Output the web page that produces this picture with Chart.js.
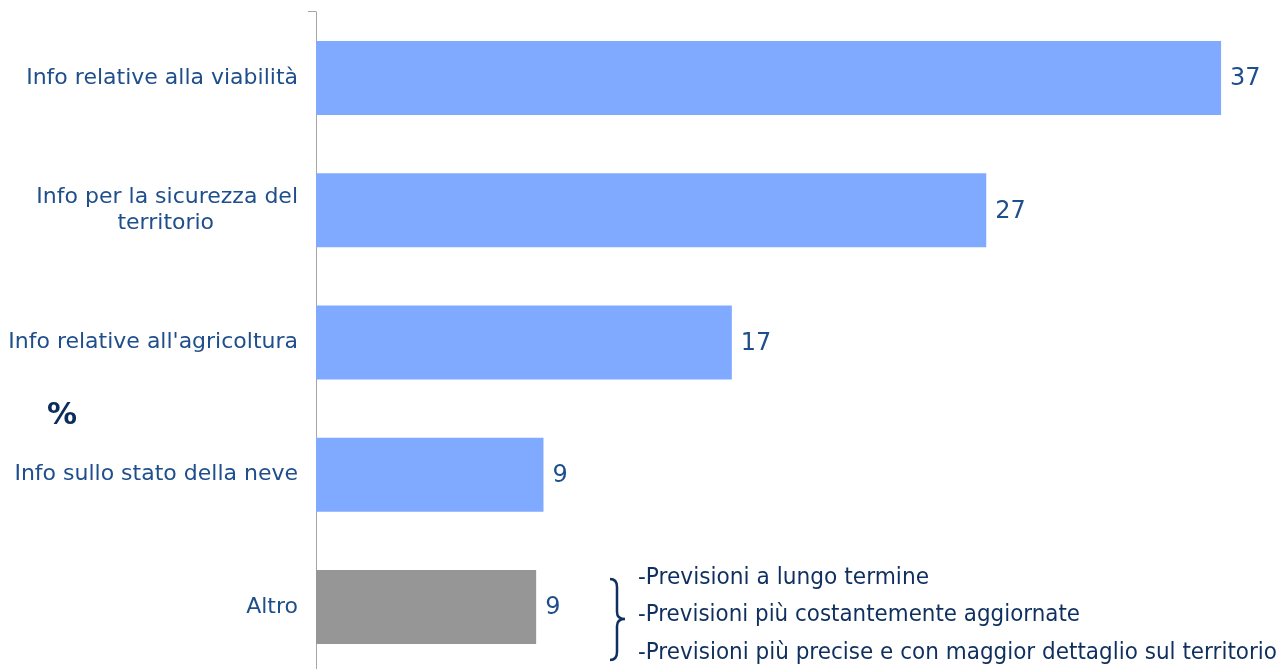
<!DOCTYPE html>
<html>
<head>
<meta charset="utf-8">
<script src="https://cdn.jsdelivr.net/npm/chart.js@4.4.1/dist/chart.umd.min.js"></script>
<style>
  html, body { margin: 0; padding: 0; background: #ffffff; overflow: hidden; }
  #wrap { position: relative; width: 1281px; height: 669px; overflow: hidden; }
  canvas { display: block; }
</style>
</head>
<body>
<div id="wrap"><canvas id="c" width="1281" height="674"></canvas></div>
<script>
// ---- data ----
const categories = [
  'Info relative alla viabilità',
  ['Info per la sicurezza del', 'territorio'],
  "Info relative all'agricoltura",
  'Info sullo stato della neve',
  'Altro'
];
const values = [37, 27.4, 17, 9.3, 9];
const valueLabels = ['37', '27', '17', '9', '9'];
const unitLabel = '%';
const altroNotes = [
  '-Previsioni a lungo termine',
  '-Previsioni più costantemente aggiornate',
  '-Previsioni più precise e con maggior dettaglio sul territorio'
];

// ---- styles ----
const FONT = "'DejaVu Sans', Verdana, sans-serif";
const LABEL_COLOR = '#1f4e8c';
const NOTE_COLOR = '#0f2f5f';
const barColors = ['#80aaff', '#80aaff', '#80aaff', '#80aaff', '#969696'];
const TICK_SIZE = 22;

// center the second line of multi-line labels under the first (right-aligned ticks)
const meas = document.createElement('canvas').getContext('2d');
meas.font = TICK_SIZE + 'px ' + FONT;
const tickLabels = categories.map(c => {
  if (!Array.isArray(c)) return c;
  const w0 = meas.measureText(c[0]).width;
  return c.map((line, i) => {
    if (i === 0) return line;
    const w = meas.measureText(line).width;
    const sp = meas.measureText('\u00A0').width;
    const n = Math.max(0, Math.round(((w0 - w) / 2) / sp));
    return line + '\u00A0'.repeat(n);
  });
});

const extras = {
  id: 'extras',
  afterDatasetsDraw(chart) {
    const ctx = chart.ctx;
    const meta = chart.getDatasetMeta(0);
    const area = chart.chartArea;
    ctx.save();
    // value labels
    ctx.font = '24px ' + FONT;
    ctx.fillStyle = LABEL_COLOR;
    ctx.textBaseline = 'middle';
    ctx.textAlign = 'left';
    meta.data.forEach((bar, i) => {
      ctx.fillText(valueLabels[i], bar.x + 9, bar.y + 1);
    });
    // small top tick on axis
    ctx.strokeStyle = '#a6a6a6';
    ctx.lineWidth = 1;
    ctx.beginPath();
    ctx.moveTo(area.left - 8, Math.round(area.top) - 0.5);
    ctx.lineTo(area.left + 0.5, Math.round(area.top) - 0.5);
    ctx.stroke();
    // unit label
    ctx.font = 'bold 30px ' + FONT;
    ctx.fillStyle = '#0b2d5b';
    ctx.textAlign = 'center';
    ctx.fillText(unitLabel, 62, 416);
    // brace + notes for Altro
    const yc = chart.scales.y.getPixelForValue(4);
    ctx.strokeStyle = NOTE_COLOR;
    ctx.lineWidth = 2.5;
    ctx.beginPath();
    const top = yc - 28, bot = yc + 53, mid = yc + 12;
    ctx.moveTo(610, top);
    ctx.quadraticCurveTo(617, top, 617, top + 8);
    ctx.lineTo(617, mid - 7);
    ctx.quadraticCurveTo(617, mid, 625, mid);
    ctx.quadraticCurveTo(617, mid, 617, mid + 7);
    ctx.lineTo(617, bot - 8);
    ctx.quadraticCurveTo(617, bot, 610, bot);
    ctx.stroke();
    ctx.font = '23px ' + FONT;
    ctx.fillStyle = NOTE_COLOR;
    ctx.textAlign = 'left';
    const widths = [291, 442, 639];
    const offs = [-29, 8, 46];
    altroNotes.forEach((t, i) => {
      ctx.fillText(t, 638, yc + offs[i], widths[i]);
    });
    ctx.restore();
  }
};

new Chart(document.getElementById('c'), {
  type: 'bar',
  data: {
    labels: tickLabels,
    datasets: [{
      data: values,
      backgroundColor: barColors,
      borderWidth: 0,
      categoryPercentage: 1,
      barPercentage: 0.56
    }]
  },
  options: {
    indexAxis: 'y',
    responsive: false,
    animation: false,
    devicePixelRatio: 1,
    layout: { padding: { top: 12, bottom: 1, left: 0, right: 0 } },
    plugins: { legend: { display: false }, tooltip: { enabled: false } },
    scales: {
      x: {
        display: false,
        min: 0,
        max: 39.45
      },
      y: {
        grid: { display: false, drawTicks: false },
        border: { display: true, color: '#a6a6a6', width: 1 },
        ticks: {
          color: LABEL_COLOR,
          font: { family: FONT, size: TICK_SIZE, lineHeight: 1.2 },
          padding: 18,
          autoSkip: false
        },
        afterFit(scale) {
          scale.width = 316;
          scale.paddingTop = 0;
          scale.paddingBottom = 0;
        }
      }
    }
  },
  plugins: [extras]
});
</script>
</body>
</html>
